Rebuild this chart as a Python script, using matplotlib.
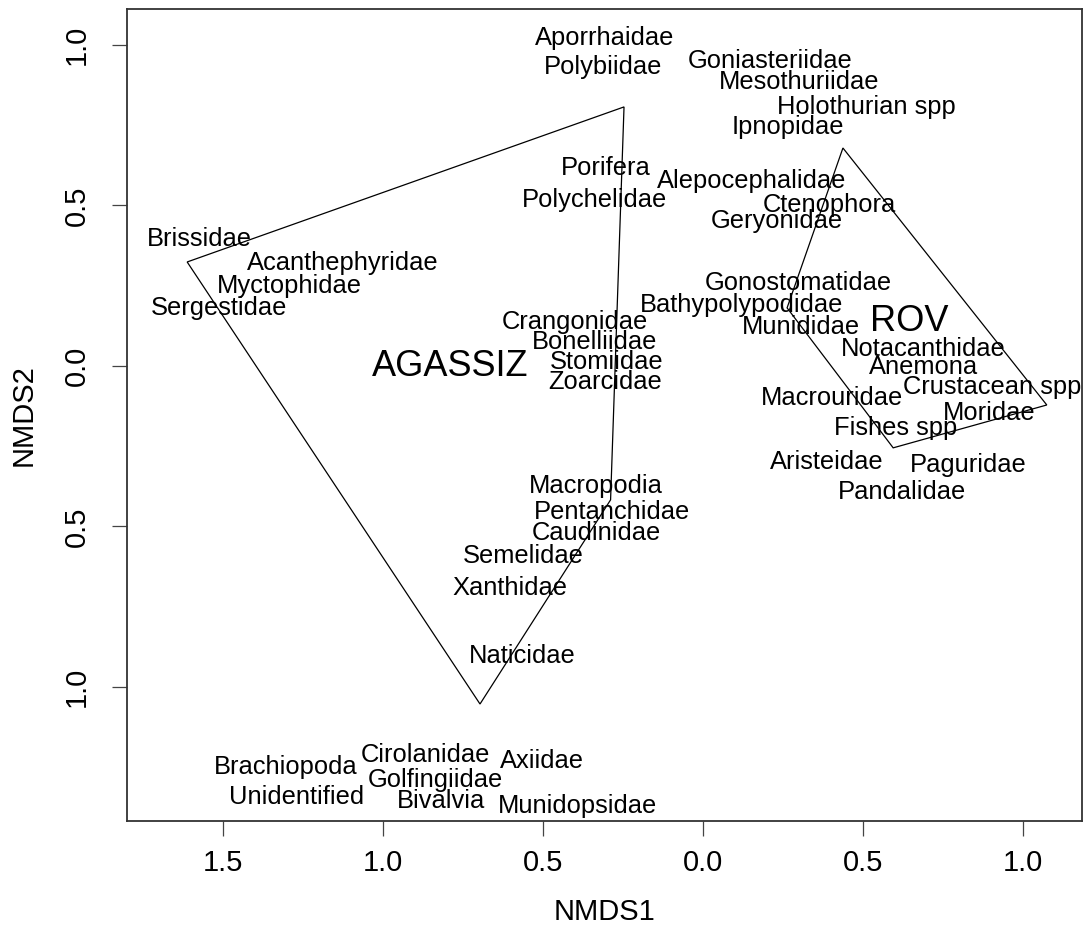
import matplotlib
matplotlib.use("Agg")
import matplotlib.pyplot as plt

plt.rcParams['font.family'] = ['Liberation Sans', 'DejaVu Sans']

# Species scores (label centres)
species = ["Aporrhaidae", "Polybiidae", "Goniasteriidae", "Mesothuriidae", "Holothurian spp",
           "Ipnopidae", "Porifera", "Alepocephalidae", "Polychelidae", "Ctenophora",
           "Geryonidae", "Brissidae", "Acanthephyridae", "Myctophidae", "Sergestidae",
           "Gonostomatidae", "Bathypolypodidae", "Munididae", "Crangonidae", "Bonelliidae",
           "Stomiidae", "Zoarcidae", "Notacanthidae", "Anemona", "Crustacean spp",
           "Macrouridae", "Moridae", "Fishes spp", "Aristeidae", "Paguridae",
           "Pandalidae", "Macropodia", "Pentanchidae", "Caudinidae", "Semelidae",
           "Xanthidae", "Naticidae", "Brachiopoda", "Cirolanidae", "Axiidae",
           "Golfingiidae", "Unidentified", "Bivalvia", "Munidopsidae"]
nmds1 = [-0.309, -0.311, 0.208, 0.300, 0.509,
         0.266, -0.303, 0.153, -0.338, 0.394,
         0.230, -1.575, -1.126, -1.292, -1.511,
         0.297, 0.119, 0.306, -0.400, -0.339,
         -0.302, -0.305, 0.6875, 0.6875, 0.903,
         0.403, 0.894, 0.603, 0.3875, 0.828,
         0.622, -0.334, -0.284, -0.334, -0.563,
         -0.603, -0.566, -1.303, -0.866, -0.503,
         -0.838, -1.269, -0.819, -0.391]
nmds2 = [1.022, 0.931, 0.950, 0.885, 0.807,
         0.745, 0.617, 0.576, 0.517, 0.501,
         0.452, 0.396, 0.321, 0.249, 0.181,
         0.259, 0.190, 0.121, 0.137, 0.075,
         0.012, -0.050, 0.053, -0.003, -0.065,
         -0.100, -0.146, -0.193, -0.299, -0.308,
         -0.393, -0.374, -0.455, -0.520, -0.592,
         -0.692, -0.903, -1.249, -1.212, -1.231,
         -1.289, -1.343, -1.355, -1.371]

# Convex hulls of the two sampling methods
agassiz_x = [-1.612, -0.247, -0.289, -0.697]
agassiz_y = [0.324, 0.807, -0.417, -1.053]
rov_x = [0.437, 1.074, 0.594, 0.2625]
rov_y = [0.679, -0.1215, -0.255, 0.181]

groups = ["AGASSIZ", "ROV"]
group_x = [-0.789, 0.644]
group_y = [-0.003, 0.137]

xticks = [-1.5, -1.0, -0.5, 0.0, 0.5, 1.0]
xtick_labels = ["1.5", "1.0", "0.5", "0.0", "0.5", "1.0"]
yticks = [-1.0, -0.5, 0.0, 0.5, 1.0]
ytick_labels = ["1.0", "0.5", "0.0", "0.5", "1.0"]

W, H = 1084, 939
fig = plt.figure(figsize=(W / 100, H / 100), dpi=100)
ax = fig.add_axes([127 / W, 1 - 821 / H, (1082 - 127) / W, (821 - 9) / H])
ax.set_xlim(-1.8, 1.184)
ax.set_ylim(-1.4174, 1.112)

for hx, hy in [(agassiz_x, agassiz_y), (rov_x, rov_y)]:
    ax.fill(hx, hy, facecolor='none', edgecolor='black', linewidth=0.9)

for name, x, y in zip(species, nmds1, nmds2):
    ax.text(x, y, name, ha='center', va='center', fontsize=18.4, color='black')

for g, x, y in zip(groups, group_x, group_y):
    ax.text(x, y, g, ha='center', va='center', fontsize=26, color='black')

ax.set_xticks(xticks)
ax.set_xticklabels(xtick_labels, fontsize=21)
ax.set_yticks(yticks)
ax.set_yticklabels(ytick_labels, fontsize=21, rotation=90, va='center')
ax.tick_params(axis='both', length=11, width=0.9, color='#444444')
ax.tick_params(axis='x', pad=9)
ax.tick_params(axis='y', pad=15)
for s in ax.spines.values():
    s.set_linewidth(1.3)
    s.set_color('#333333')

ax.set_xlabel("NMDS1", fontsize=21, labelpad=15)
ax.set_ylabel("NMDS2", fontsize=21, labelpad=18)

fig.savefig("out.png", dpi=100)
